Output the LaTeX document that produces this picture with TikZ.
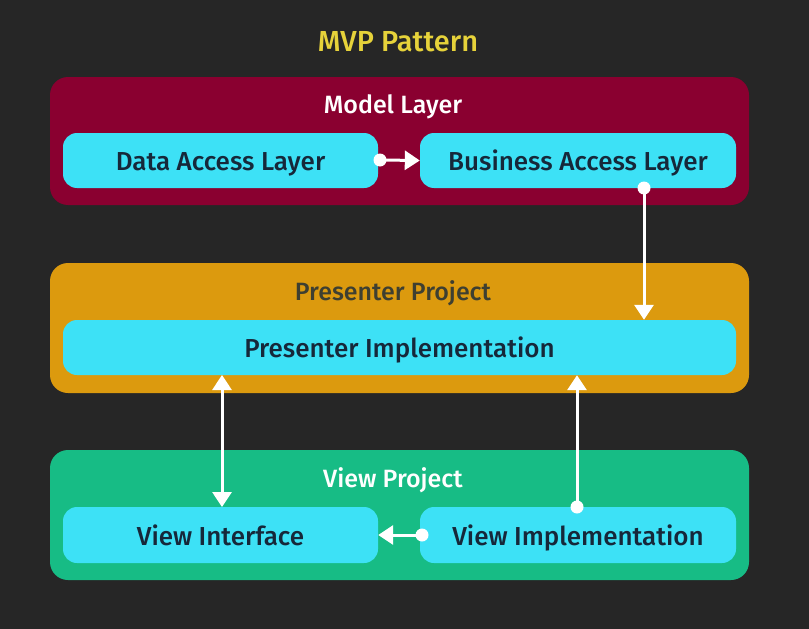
\documentclass[tikz,border=0pt]{standalone}
\usepackage{fontspec}
\setmainfont{Fira Sans}[BoldFont={Fira Sans Medium}]
\usetikzlibrary{arrows.meta}
\definecolor{bg}{HTML}{262626}
\definecolor{titley}{HTML}{E6D23A}
\definecolor{modelc}{HTML}{8A0030}
\definecolor{presc}{HTML}{DC9A0E}
\definecolor{viewc}{HTML}{17BC85}
\definecolor{boxc}{HTML}{3DE1F6}
\definecolor{txtc}{HTML}{16283A}
\tikzset{
  inbox/.style={fill=boxc, rounded corners=14pt, inner sep=0pt, draw=none, text=txtc, font=\bfseries\fontsize{26}{30}\selectfont, text height=20pt, text depth=0pt},
  lbl/.style={font=\bfseries\fontsize{25}{30}\selectfont},
  conn/.style={draw=white, line width=3pt, -{Triangle[length=15pt,width=19pt]}},
  conn2/.style={draw=white, line width=3pt, {Triangle[length=15pt,width=19pt]}-{Triangle[length=15pt,width=19pt]}},
  dot/.style={circle, fill=white, inner sep=0pt, minimum size=13pt}
}
\begin{document}
\begin{tikzpicture}[x=1pt,y=-1pt]
\fill[bg] (0,0) rectangle (809,629);
\useasboundingbox (0,0) rectangle (809,629);
\node[text=titley, font=\bfseries\fontsize{29}{34}\selectfont] (title) at (398,42) {MVP Pattern};
% layers
\fill[modelc, rounded corners=18pt] (50,77) rectangle (749,205);
\fill[presc, rounded corners=18pt] (50,263) rectangle (749,393);
\fill[viewc, rounded corners=18pt] (50,450) rectangle (749,580);
\node[lbl, text=white] (mlbl) at (393,107) {Model Layer};
\node[lbl, text=txtc!80!presc] (plbl) at (393,293) {Presenter Project};
\node[lbl, text=white] (vlbl) at (393,480) {View Project};
% inner boxes
\node[inbox, minimum width=315pt, minimum height=55pt] (dal) at (220.5,160.5) {Data Access Layer};
\node[inbox, minimum width=316pt, minimum height=55pt] (bal) at (578,160.5) {Business Access Layer};
\node[inbox, minimum width=673pt, minimum height=55pt] (pi) at (399.5,347.5) {Presenter Implementation};
\node[inbox, minimum width=315pt, minimum height=56pt] (vi) at (220.5,535) {View Interface};
\node[inbox, minimum width=316pt, minimum height=56pt] (vim) at (578,535) {View Implementation};
% connectors
\node[dot] (d1) at (380,160) {};
\draw[conn] (d1.center) -- (bal.west);
\node[dot] (d2) at (644,188) {};
\draw[conn] (d2.center) -- (d2.center |- pi.north);
\node[dot] (d3) at (577,507) {};
\draw[conn] (d3.center) -- (d3.center |- pi.south);
\node[dot] (d4) at (422,535) {};
\draw[conn] (d4.center) -- (vi.east);
\coordinate (a1) at (222,375);
\coordinate (a2) at (222,507);
\draw[conn2] (a1) -- (a2);
\end{tikzpicture}
\end{document}
